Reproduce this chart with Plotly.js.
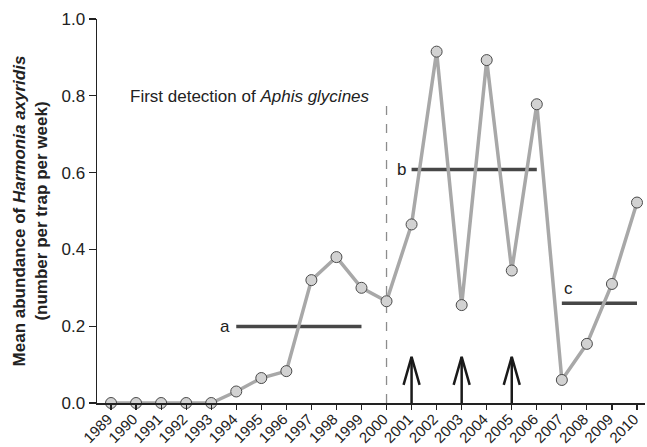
<!DOCTYPE html>
<html>
<head>
<meta charset="utf-8">
<script src="https://cdn.plot.ly/plotly-3.0.1.min.js"></script>
<style>html,body{margin:0;padding:0;background:#fff}#chart{width:647px;height:447px}</style>
</head>
<body>
<div id="chart"></div>
<script>
// ---- data ----
var years = [1989,1990,1991,1992,1993,1994,1995,1996,1997,1998,1999,2000,2001,2002,2003,2004,2005,2006,2007,2008,2009,2010];
var abundance = [0,0,0,0,0,0.03,0.065,0.083,0.32,0.38,0.30,0.265,0.465,0.915,0.255,0.893,0.345,0.778,0.06,0.154,0.31,0.522];
var yearLabels = years.map(String);

var groupLabels = ['a','b','c'];
var groupStart = [1994,2001,2007];
var groupEnd = [1999,2006,2010];
var groupMean = [0.199,0.608,0.26];

var detectionYear = 2000;
var detectionTop = 0.775;
var arrowYears = [2001,2003,2005];
var arrowTip = 0.12;

// ---- traces ----
var traces = [];
for (var i = 0; i < groupLabels.length; i++) {
  traces.push({x:[groupStart[i], groupEnd[i]], y:[groupMean[i], groupMean[i]], mode:'lines',
    line:{color:'#474747', width:3.5}, hoverinfo:'skip', showlegend:false});
}
traces.push({x:[detectionYear, detectionYear], y:[0, detectionTop], mode:'lines',
  line:{color:'#8c8c8c', width:1.3, dash:'dash'}, hoverinfo:'skip', showlegend:false});
var headDx = 0.32, headDy = 0.073;
arrowYears.forEach(function(yr){
  traces.push({x:[yr, yr], y:[0, arrowTip], mode:'lines', line:{color:'#1a1a1a', width:2.5},
    hoverinfo:'skip', showlegend:false, cliponaxis:false});
  traces.push({x:[yr-headDx, yr, yr+headDx], y:[arrowTip-headDy, arrowTip, arrowTip-headDy], mode:'lines',
    line:{color:'#1a1a1a', width:2.5}, hoverinfo:'skip', showlegend:false, cliponaxis:false});
});
traces.push({x:years, y:abundance, mode:'lines+markers', cliponaxis:false,
  line:{color:'#a8a8a8', width:3.5},
  marker:{size:11, color:'#d2d2d2', line:{color:'#4a4a4a', width:1}},
  showlegend:false});

// ---- annotations ----
var annotations = [{
  x: 1999.4, y: 0.797, xref:'x', yref:'y', xanchor:'right', yanchor:'middle', showarrow:false,
  text:'First detection of <i>Aphis glycines</i>', font:{family:'Liberation Sans, Arial', size:17, color:'#222'}
}];
var labelPos = [
  {x:groupStart[0], y:groupMean[0], xanchor:'right', yanchor:'middle', xshift:-4, yshift:0},
  {x:groupStart[1], y:groupMean[1], xanchor:'right', yanchor:'middle', xshift:-4, yshift:0},
  {x:groupStart[2], y:groupMean[2], xanchor:'left', yanchor:'bottom', xshift:0, yshift:3}
];
for (var j = 0; j < groupLabels.length; j++) {
  var p = labelPos[j];
  annotations.push({x:p.x, y:p.y, xref:'x', yref:'y', xanchor:p.xanchor, yanchor:p.yanchor,
    xshift:p.xshift, yshift:p.yshift, showarrow:false, text:groupLabels[j],
    font:{family:'Liberation Sans, Arial', size:17, color:'#222'}});
}

var layout = {
  width:647, height:447,
  margin:{l:97, r:2, t:19, b:44},
  paper_bgcolor:'#fff', plot_bgcolor:'#fff',
  font:{family:'Liberation Sans, Arial', color:'#222'},
  xaxis:{range:[1988.44, 2010.32], tickvals:years, ticktext:yearLabels, tickangle:-45,
    showgrid:false, zeroline:false, showline:true, linecolor:'#222', linewidth:1.5,
    ticks:'outside', ticklen:5, tickcolor:'#222', tickwidth:1.2,
    ticklabelstandoff:-5, ticklabelshift:-3,
    tickfont:{size:15, color:'#222'}},
  yaxis:{range:[0,1], tickvals:[0,0.2,0.4,0.6,0.8,1.0], tickformat:'.1f',
    showgrid:false, zeroline:false, showline:true, linecolor:'#222', linewidth:1.5,
    ticks:'outside', ticklen:7, tickcolor:'#222', tickwidth:1.2,
    tickfont:{size:17, color:'#222'},
    title:{text:'<b>Mean abundance of <i>Harmonia axyridis</i></b><br><b>(number per trap per week)</b>',
      font:{size:17, color:'#222'}, standoff:9}},
  annotations:annotations,
  showlegend:false
};

Plotly.newPlot('chart', traces, layout, {displayModeBar:false, staticPlot:true});
</script>
</body>
</html>
